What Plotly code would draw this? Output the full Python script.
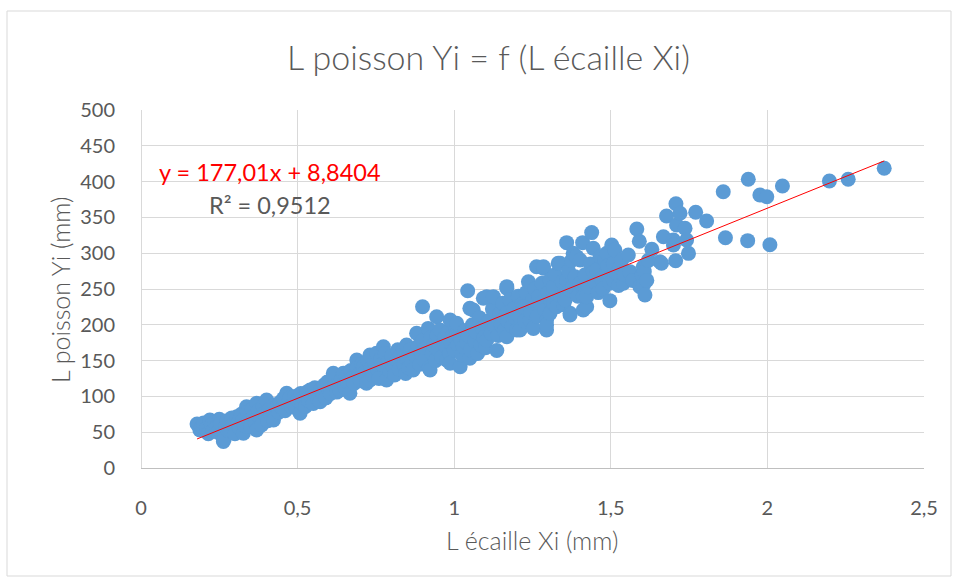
import plotly.graph_objects as go

# ---- data ----
xa = [0.179,0.188,0.195,0.20,0.21,0.215,0.22,0.225,0.23,0.235,0.242,0.245,0.25,0.255,0.26,0.263,0.266,0.27,0.275,0.28,0.284,0.29,0.295,0.30,0.306,0.31,0.315,0.32,0.325,0.327,0.33,0.337,0.34,0.345,0.35,0.355,0.36,0.365,0.369,0.369,0.375,0.38,0.385,0.39,0.395,0.401,0.405,0.41,0.415,0.423,0.425,0.433,0.44,0.445,0.45]
ya = [61.5,53,58,63,55,48,67,60,52,64,57.7,50,68,62,45,37,41,58,66,52,53,70,61,48,71.6,63,56,75,67,48.5,59,85.6,78,66,58,82,72,63,90.4,53,80,70,60,86,76,95,66,82,74,67,88,85.6,78,92,84]

xb = [0.455,0.46,0.465,0.47,0.475,0.48,0.486,0.49,0.495,0.50,0.508,0.51,0.515,0.52,0.525,0.53,0.535,0.54,0.545,0.55,0.555,0.56,0.565,0.572,0.575,0.58,0.585,0.59,0.595,0.60,0.605,0.614,0.614,0.62,0.625,0.635,0.635,0.64,0.646,0.65,0.655,0.66,0.667,0.67,0.675,0.68,0.689,0.69,0.695,0.70,0.705,0.71,0.715,0.72,0.725,0.731,0.731,0.735,0.74,0.745,0.752]
yb = [97,80,104.3,90,98,86,90.4,100,84,95,76.4,104,90,98,86,106,94,108.9,100,90,112,102,96,92.6,110,104,116,98,120,110,104,127.5,132.3,115,106,118.3,108.9,124,132.3,114,128,120,104.3,136,126,118,150.8,140,130,122,145,141.5,134,118.3,150,157.8,122.9,140,130,148,160.2]

xc = [0.755,0.76,0.765,0.77,0.774,0.78,0.784,0.79,0.795,0.80,0.805,0.81,0.817,0.82,0.825,0.83,0.838,0.84,0.845,0.848,0.85,0.855,0.86,0.865,0.869,0.875,0.88,0.885,0.89,0.895,0.899,0.90,0.905,0.91,0.917,0.92,0.923,0.925,0.93,0.935,0.94,0.944,0.945,0.95,0.955,0.96,0.965,0.97,0.976,0.976,0.98,0.985,0.987,0.987,0.99,0.995,1.0]
yc = [138,125,152,145,169.4,160,122.9,148,135,156,142,130,150.8,165,138,158,164.8,145,132,171.8,152,140,165,148,136.9,158,188.1,170,145,160,225.3,178,150,168,195,140,136.9,182,160,172,150,211.3,185,165,192.7,155,174.2,182,169.4,150.8,190,160,146.2,206.7,175,185,165]

xd = [1.005,1.008,1.008,1.012,1.019,1.02,1.025,1.029,1.035,1.04,1.043,1.045,1.05,1.05,1.052,1.058,1.061,1.061,1.065,1.07,1.075,1.08,1.085,1.09,1.093,1.095,1.10,1.104,1.104,1.108,1.114,1.118,1.122,1.125,1.13,1.136,1.14,1.145,1.15,1.155,1.16,1.168,1.168,1.168,1.168,1.172,1.178,1.185,1.19,1.195,1.20,1.205,1.21,1.21,1.215,1.221,1.225,1.23,1.237,1.242,1.245,1.25,1.253,1.258,1.263,1.265,1.27,1.274,1.28,1.285,1.285,1.29,1.295,1.295,1.295]
yd = [195,188.1,202.1,172,141.5,180,158,169.4,192,175,247.5,185,153.2,223,165,200,197.3,220.7,178,190,160,210,172,195,237,182,168,178.8,239.3,205,206.7,188,222,239.3,198,164.1,185,215,200,230,192,216,183.4,251,253.3,205,235,198,222,210,192.7,240,211.3,192.7,228,225.3,205,245,260.2,206.7,218,235,195,250,281.1,212,240,230,258,278.9,281.1,220,192.7,206.7,199.7]

xe = [1.30,1.306,1.306,1.31,1.317,1.317,1.317,1.322,1.327,1.332,1.338,1.34,1.345,1.35,1.354,1.359,1.359,1.365,1.37,1.37,1.37,1.375,1.38,1.38,1.386,1.391,1.395,1.402,1.402,1.41,1.412,1.412,1.418,1.423,1.423,1.428,1.435,1.439,1.444,1.444,1.45,1.455,1.46,1.466,1.47,1.475,1.481,1.487,1.487,1.49,1.497,1.497,1.503,1.508,1.508,1.513,1.519,1.525,1.53,1.535,1.54,1.545,1.556,1.561,1.57,1.583,1.591,1.593,1.6]
ye = [245,216,262.6,232,244,253.3,230,270,225.3,285.9,285.9,240,260,228,234.6,314.7,262.6,275,216,213.7,248.6,290,253.3,299.9,267.2,295.2,240,258,290.5,314.7,239.3,220.7,270,225.3,239.3,253.3,285,328.8,306.8,274.2,260,276.5,245,295.2,265,250,290.5,300,274.2,282,258,233.7,311.5,285.9,262.6,304.5,271.9,255,280,290.5,258,270,297.5,274.2,262,333.8,316.6,253.3,270]

xf = [1.604,1.604,1.607,1.609,1.615,1.62,1.631,1.657,1.662,1.668,1.678,1.70,1.70,1.707,1.708,1.71,1.721,1.737,1.742,1.748,1.771,1.806,1.859,1.866,1.937,1.939,1.976,1.998,2.008,2.048,2.198,2.258,2.373]
yf = [255.6,281.1,274.2,241.6,262,290,305.4,288.1,285.9,323,352,318.4,311.5,289.5,369,339.4,355.7,334.8,318.4,299.8,357.1,345.0,385.9,321.6,317.5,403.2,381.3,378.9,311.9,393.9,400.8,403.2,418.6]

x_ecaille = xa + xb + xc + xd + xe + xf
y_poisson = ya + yb + yc + yd + ye + yf

slope = 177.01
intercept = 8.8404
r2 = 0.9512

title_text = "L poisson Yi = f (L écaille Xi)"
x_title = "L écaille Xi (mm)"
y_title = "L poisson Yi (mm)"

# ---- figure ----
FONT = "Lato"
GREY = "#595959"
GRID = "#D9D9D9"

x_line = [min(x_ecaille), max(x_ecaille)]
y_line = [slope * v + intercept for v in x_line]

fig = go.Figure()
fig.add_trace(go.Scatter(
    x=x_ecaille, y=y_poisson, mode="markers",
    marker=dict(size=15, color="#5B9BD5", line=dict(width=0)),
    showlegend=False, hoverinfo="skip"))
fig.add_trace(go.Scatter(
    x=x_line, y=y_line, mode="lines",
    line=dict(color="#FF0000", width=1),
    showlegend=False, hoverinfo="skip"))

W, H = 956, 580
L, R, T, B = 141, 32, 110, 112
pw, ph = W - L - R, H - T - B

def px(xp):
    return (xp - L) / pw

def py(yp):
    return (H - B - yp) / ph

eq_text = "y = " + f"{slope:.2f}".replace(".", ",") + "x + " + f"{intercept:.4f}".replace(".", ",")
r2_text = "R² = " + f"{r2:.4f}".replace(".", ",")

fig.update_layout(
    width=W, height=H,
    margin=dict(l=L, r=R, t=T, b=B, pad=0),
    paper_bgcolor="white", plot_bgcolor="white",
    separators=", ",
    font=dict(family=FONT, color=GREY),
    xaxis=dict(range=[0, 2.5], dtick=0.5, tick0=0,
               showgrid=True, gridcolor=GRID, gridwidth=1,
               zeroline=True, zerolinecolor=GRID, zerolinewidth=1,
               showline=True, linecolor="#BFBFBF", linewidth=1,
               ticks="outside", ticklen=22, tickcolor="rgba(0,0,0,0)",
               tickfont=dict(family=FONT, size=20, color=GREY),
               fixedrange=True),
    yaxis=dict(range=[0, 500], dtick=50, tick0=0,
               showgrid=True, gridcolor=GRID, gridwidth=1,
               zeroline=True, zerolinecolor="#BFBFBF", zerolinewidth=1,
               showline=False,
               ticks="outside", ticklen=21, tickcolor="rgba(0,0,0,0)",
               tickfont=dict(family=FONT, size=20, color=GREY),
               fixedrange=True),
    shapes=[dict(type="rect", xref="paper", yref="paper",
                 x0=px(7), x1=px(951), y0=py(576), y1=py(11),
                 line=dict(color=GRID, width=1), fillcolor="rgba(0,0,0,0)",
                 layer="below")],
    annotations=[
        dict(text=title_text, xref="paper", yref="paper", x=px(488), y=py(56),
             showarrow=False, xanchor="center", yanchor="middle",
             font=dict(family=FONT, size=34, color=GREY, weight=300)),
        dict(text=x_title, xref="paper", yref="paper", x=px(532), y=py(540),
             showarrow=False, xanchor="center", yanchor="middle",
             font=dict(family=FONT, size=25, color=GREY, weight=300)),
        dict(text=y_title, xref="paper", yref="paper", x=px(60), y=py(290),
             showarrow=False, xanchor="center", yanchor="middle", textangle=-90,
             font=dict(family=FONT, size=25, color=GREY, weight=300)),
        dict(text=eq_text,
             xref="paper", yref="paper", x=px(157), y=py(172),
             showarrow=False, xanchor="left", yanchor="middle",
             font=dict(family=FONT, size=23.5, color="#FF0000")),
        dict(text=r2_text,
             xref="paper", yref="paper", x=px(207), y=py(205),
             showarrow=False, xanchor="left", yanchor="middle",
             font=dict(family=FONT, size=23.5, color=GREY)),
    ],
)

fig.write_html("out.html")
